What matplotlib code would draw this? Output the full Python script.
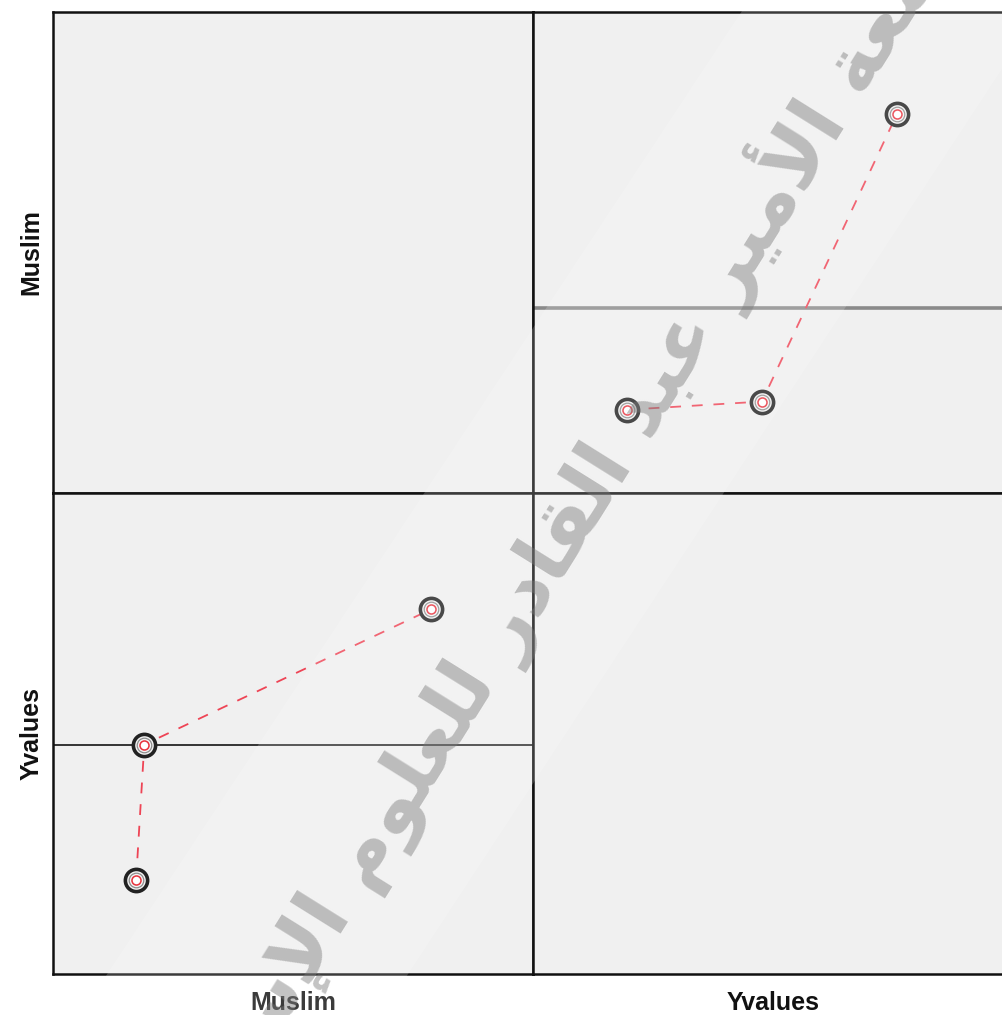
import matplotlib.pyplot as plt

# variables of the scatterplot matrix
variables = ['Muslim', 'Yvalues']
muslim = [12.0, 12.5, 30.0]
yvalues = [1, 2, 3]

# axis limits for each variable (no tick labels are drawn)
limits = {'Muslim': (6.93, 36.22), 'Yvalues': (0.304, 3.86)}

# watermark text, written as joined presentation forms in visual order
wm_words = [
    '\uFE9F\uFE8E\uFEE3\uFECC\uFE94',                  # جامعة
    '\uFE8D\uFEF7\uFEE3\uFEF4\uFEAE',                  # الأمير
    '\uFECB\uFE92\uFEAA',                              # عبد
    '\uFE8D\uFEDF\uFED8\uFE8E\uFEA9\uFEAD',            # القادر
    '\uFEDF\uFEE0\uFECC\uFEE0\uFEEE\uFEE1',            # للعلوم
    '\uFE8D\uFEF9\uFEB3\uFEFC\uFEE3\uFEF4\uFE94',      # الإسلامية
]
watermark = ' '.join(w[::-1] for w in wm_words[::-1])

data = {'Muslim': muslim, 'Yvalues': yvalues}

fig = plt.figure(figsize=(10.03, 10.15), dpi=100)
fig.patch.set_facecolor('white')

left, top = 53 / 1003, 1 - 12 / 1015
pw, ph = 480 / 1003, 481 / 1015
label_font = dict(fontsize=18, fontweight='bold', family='Liberation Sans', color='#111111')

for i, yv in enumerate(variables):
    for j, xv in enumerate(variables):
        ax = fig.add_axes([left + j * pw, top - (i + 1) * ph, pw, ph])
        ax.set_facecolor('#f0f0f0')
        ax.set_xlim(limits[xv])
        ax.set_ylim(limits[yv])
        ax.set_xticks([])
        ax.set_yticks([])
        for s in ax.spines.values():
            s.set_linewidth(1.8)
            s.set_color('#111111')
        if i != j:
            xs, ys = data[xv], data[yv]
            mean_y = sum(ys) / len(ys)
            ref_col = '#8a8a8a' if i == 0 else '#333333'
            ref_lw = 2.6 if i == 0 else 1.4
            ax.axhline(mean_y, color=ref_col, lw=ref_lw, zorder=1)
            pts = sorted(zip(xs, ys))
            ax.plot([p[0] for p in pts], [p[1] for p in pts], color='#ee4455',
                    lw=1.3, dashes=(6, 6), zorder=2)
            # ringed markers: dark outer ring, thin grey ring, red core
            ax.plot(xs, ys, 'o', ms=16, mfc='#f4f4f4', mec='#222222', mew=2.6, zorder=3)
            ax.plot(xs, ys, 'o', ms=10.5, mfc='none', mec='#8c8c8c', mew=0.9, zorder=4)
            ax.plot(xs, ys, 'o', ms=6.5, mfc='white', mec='#e8323c', mew=1.1, zorder=5)
        if j == 0:
            ax.set_ylabel(yv, labelpad=7, **label_font)
        if i == 1:
            ax.set_xlabel(xv, labelpad=12, **label_font)

# light diagonal band behind the watermark
band = plt.Polygon([(0.080, 0.0), (0.380, 0.0), (1.044, 1.0), (0.747, 1.0)],
                   closed=True, transform=fig.transFigure, facecolor='white',
                   alpha=0.18, edgecolor='none', zorder=10)
fig.patches.append(band)

fig.text(0.550, 0.462, watermark, fontsize=57, fontweight='bold', family='DejaVu Sans',
         color='#7a7a7a', alpha=0.45, rotation=58, ha='center', va='center',
         rotation_mode='anchor', zorder=11)

plt.savefig('out.png', dpi=100)
